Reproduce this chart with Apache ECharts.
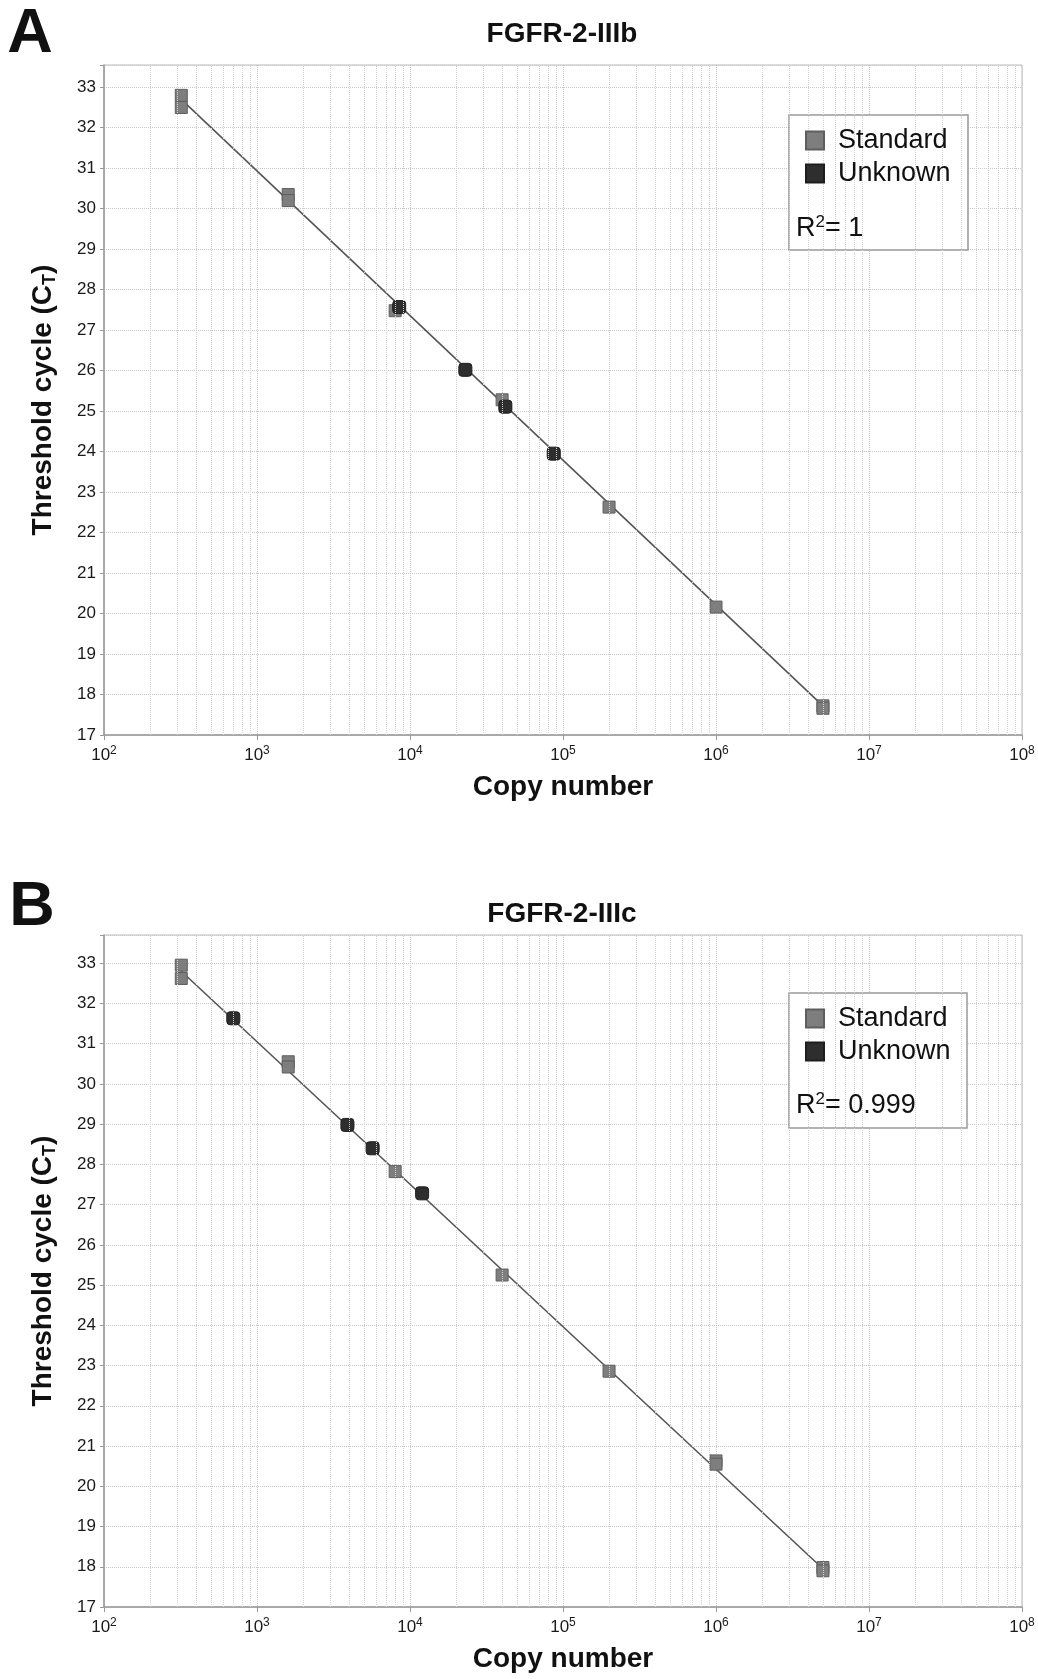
<!DOCTYPE html>
<html>
<head>
<meta charset="utf-8">
<title>FGFR-2 standard curves</title>
<script src="https://cdn.jsdelivr.net/npm/echarts@6/dist/echarts.min.js"></script>
<style>
  html, body { margin: 0; padding: 0; background: #ffffff; }
  #main { width: 1038px; height: 1679px; }
</style>
</head>
<body>
<div id="main"></div>
<script>
// panel A : FGFR-2-IIIb
const stdCopiesA = [320, 320, 1600, 1600, 8000, 40000, 200000, 1000000, 5000000, 5000000];
const stdCtA = [32.8, 32.5, 30.35, 30.2, 27.48, 25.28, 22.63, 20.16, 17.72, 17.66];
const unkCopiesA = [8500, 23000, 42000, 87000];
const unkCtA = [27.57, 26.02, 25.11, 23.95];
const fitCopiesA = [320, 5000000];
const fitCtA = [32.7, 17.72];

// panel B : FGFR-2-IIIc
const stdCopiesB = [320, 320, 1600, 1600, 8000, 40000, 200000, 1000000, 1000000, 5000000, 5000000];
const stdCtB = [32.95, 32.62, 30.55, 30.42, 27.82, 25.25, 22.86, 20.63, 20.55, 17.98, 17.9];
const unkCopiesB = [700, 3900, 5700, 12000];
const unkCtB = [31.63, 28.98, 28.4, 27.28];
const fitCopiesB = [320, 5000000];
const fitCtB = [32.8, 17.95];

const titles = ['FGFR-2-IIIb', 'FGFR-2-IIIc'];
const r2Labels = ['1', '0.999'];

// log grid: 2..9 inside every decade
const decades = [2, 3, 4, 5, 6, 7];
const minorSteps = [2, 3, 4, 5, 6, 7, 8, 9];

const FONT = '"Liberation Sans", Arial, sans-serif';

const zip = (xs, ys) => xs.map((x, i) => [x, ys[i]]);

let minorLines = [];
decades.forEach(d => {
  minorSteps.forEach(m => {
    minorLines.push({ xAxis: m * Math.pow(10, d) });
  });
});

function xAxisFor(idx) {
  return {
    type: 'log',
    logBase: 10,
    gridIndex: idx,
    min: 100,
    max: 100000000,
    name: 'Copy number',
    nameLocation: 'middle',
    nameGap: 38,
    nameTextStyle: { fontFamily: FONT, fontSize: 28, fontWeight: 'bold', color: '#111' },
    axisLine: { lineStyle: { color: '#999', width: 1.5 } },
    axisTick: { show: true, length: 5, lineStyle: { color: '#999' } },
    axisLabel: {
      margin: 10,
      formatter: v => '{b|10}{s|' + Math.round(Math.log10(v)) + '}',
      rich: {
        b: { fontFamily: FONT, fontSize: 17, lineHeight: 21, color: '#1a1a1a' },
        s: { fontFamily: FONT, fontSize: 12, lineHeight: 12, verticalAlign: 'top', color: '#1a1a1a' }
      }
    },
    splitLine: { show: true, lineStyle: { color: '#c8c8c8', type: 'dotted', width: 1 } }
  };
}

function yAxisFor(idx, max) {
  return {
    type: 'value',
    gridIndex: idx,
    min: 17,
    max: max,
    interval: 1,
    name: '{a|Threshold cycle (C}{t|T}{a|)}',
    nameLocation: 'middle',
    nameRotate: 90,
    nameGap: 45,
    nameTextStyle: {
      rich: {
        a: { fontFamily: FONT, fontSize: 28, fontWeight: 'bold', lineHeight: 32, color: '#111' },
        t: { fontFamily: FONT, fontSize: 18, fontWeight: 'bold', lineHeight: 18, verticalAlign: 'bottom', color: '#111' }
      }
    },
    axisLine: { show: true, lineStyle: { color: '#999', width: 1.5 } },
    axisTick: { show: true, length: 4, lineStyle: { color: '#999' } },
    axisLabel: {
      margin: 8,
      fontFamily: FONT,
      fontSize: 17,
      color: '#1a1a1a',
      formatter: v => (Number.isInteger(v) ? String(v) : '')
    },
    splitLine: { show: true, lineStyle: { color: '#c8c8c8', type: 'dotted', width: 1 } }
  };
}

function seriesFor(idx, fitX, fitY, stdX, stdY, unkX, unkY) {
  return [
    {
      name: 'fit',
      type: 'line',
      xAxisIndex: idx,
      yAxisIndex: idx,
      data: zip(fitX, fitY),
      symbol: 'none',
      lineStyle: { color: '#555', width: 1.6 },
      z: 2,
      markLine: {
        silent: true,
        symbol: 'none',
        label: { show: false },
        lineStyle: { color: '#d0d0d0', type: 'dotted', width: 1 },
        data: minorLines
      }
    },
    {
      name: 'Standard',
      type: 'scatter',
      xAxisIndex: idx,
      yAxisIndex: idx,
      data: zip(stdX, stdY),
      symbol: 'rect',
      symbolSize: 12,
      itemStyle: { color: '#7e7e7e', borderColor: '#5e5e5e', borderWidth: 1, opacity: 1 },
      z: 3
    },
    {
      name: 'Unknown',
      type: 'scatter',
      xAxisIndex: idx,
      yAxisIndex: idx,
      data: zip(unkX, unkY),
      symbol: 'roundRect',
      symbolSize: 13,
      itemStyle: { color: '#2e2e2e', borderColor: '#1e1e1e', borderWidth: 1, opacity: 1 },
      z: 4
    }
  ];
}

function legendFor(top) {
  return {
    left: 805,
    top: top,
    padding: 0,
    orient: 'vertical',
    data: ['Standard', 'Unknown'],
    icon: 'rect',
    itemWidth: 18,
    itemHeight: 18,
    itemGap: 6,
    selectedMode: false,
    z: 6,
    textStyle: { fontFamily: FONT, fontSize: 27, lineHeight: 27, color: '#111', padding: [0, 0, 0, 9] }
  };
}

function r2Text(y, val) {
  return {
    type: 'text',
    x: 796,
    y: y,
    z: 6,
    style: {
      text: '{a|R}{s|2}{a|= ' + val + '}',
      verticalAlign: 'middle',
      rich: {
        a: { fontFamily: FONT, fontSize: 27, lineHeight: 30, fill: '#111' },
        s: { fontFamily: FONT, fontSize: 17, lineHeight: 17, verticalAlign: 'top', fill: '#111' }
      }
    }
  };
}

function headText(x, y, text, size) {
  return {
    type: 'text',
    x: x,
    y: y,
    z: 6,
    style: {
      text: text,
      fontFamily: FONT,
      fontSize: size,
      fontWeight: 'bold',
      fill: '#111',
      align: 'center',
      verticalAlign: 'middle'
    }
  };
}

const chart = echarts.init(document.getElementById('main'), null, { renderer: 'canvas' });

const option = {
  backgroundColor: '#ffffff',
  animation: false,
  grid: [
    { left: 104, top: 65, width: 918, height: 670, show: true, borderColor: '#bbb', borderWidth: 1, backgroundColor: '#fff' },
    { left: 104, top: 935, width: 918, height: 672, show: true, borderColor: '#bbb', borderWidth: 1, backgroundColor: '#fff' }
  ],
  xAxis: [xAxisFor(0), xAxisFor(1)],
  yAxis: [yAxisFor(0, 33.55), yAxisFor(1, 33.7)],
  legend: [legendFor(127), legendFor(1005)],
  series: [].concat(
    seriesFor(0, fitCopiesA, fitCtA, stdCopiesA, stdCtA, unkCopiesA, unkCtA),
    seriesFor(1, fitCopiesB, fitCtB, stdCopiesB, stdCtB, unkCopiesB, unkCtB)
  ),
  graphic: [
    // legend boxes
    { type: 'rect', z: 5, shape: { x: 789, y: 115, width: 179, height: 135 }, style: { fill: '#fff', stroke: '#999', lineWidth: 1.5 } },
    { type: 'rect', z: 5, shape: { x: 789, y: 993, width: 178, height: 135 }, style: { fill: '#fff', stroke: '#999', lineWidth: 1.5 } },
    r2Text(229, r2Labels[0]),
    r2Text(1106, r2Labels[1]),
    headText(30, 35, 'A', 63),
    headText(32, 908, 'B', 63),
    headText(562, 34, titles[0], 28),
    headText(562, 914, titles[1], 28)
  ]
};

chart.setOption(option);
</script>
</body>
</html>
